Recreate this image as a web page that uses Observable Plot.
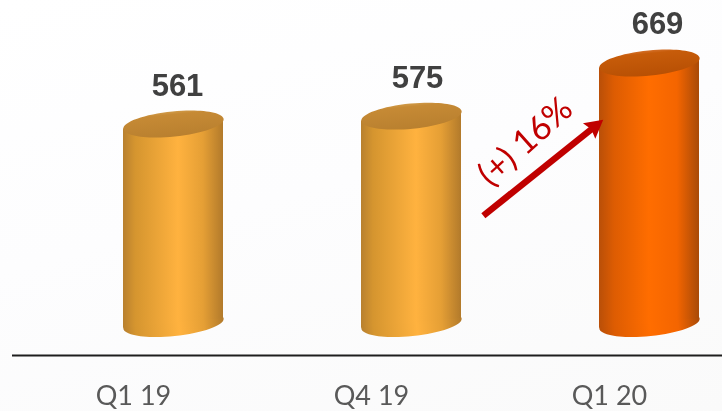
<!DOCTYPE html>
<html>
<head>
<meta charset="utf-8">
<script src="https://cdn.jsdelivr.net/npm/d3@7"></script>
<script src="https://cdn.jsdelivr.net/npm/@observablehq/plot@0.6"></script>
<style>
html,body{margin:0;padding:0;width:722px;height:411px;overflow:hidden;background:linear-gradient(165deg,#ffffff 0%,#fdfdfe 45%,#fafafa 100%);}
svg{display:block;background:transparent!important;filter:blur(0.4px);}
</style>
</head>
<body>
<div id="chart"></div>
<script>
const categories = ["Q1 19", "Q4 19", "Q1 20"];
const values = [561, 575, 669];
const growthLabel = "(+) 16%";
const growthFrom = 297;
const growthTo = 634;
const axisValue = 151.3;
const cylinderBase = 208;
const arrowTipValue = 568.5;
const growthLabelValue = 526;

const rows = categories.map((category, i) => ({category, value: values[i]}));
const body = d => d.category === "Q1 20" ? "url(#bodyOrange)" : "url(#bodyAmber)";
const lid = d => d.category === "Q1 20" ? "url(#lidOrange)" : "url(#lidAmber)";
const tilt = -5.6;

// Tilted-ellipse and arrowhead glyphs for Plot.dot
const ellipse = {draw(c, size) {
  const rx = Math.sqrt(size / Math.PI), ry = rx * 0.25, k = 0.5523;
  c.moveTo(-rx, 0);
  c.bezierCurveTo(-rx, -k * ry, -k * rx, -ry, 0, -ry);
  c.bezierCurveTo(k * rx, -ry, rx, -k * ry, rx, 0);
  c.bezierCurveTo(rx, k * ry, k * rx, ry, 0, ry);
  c.bezierCurveTo(-k * rx, ry, -rx, k * ry, -rx, 0);
  c.closePath();
}};
const head = {draw(c, size) {
  const r = Math.sqrt(size / Math.PI);
  c.moveTo(0, 0);
  c.lineTo(-r, -r * 0.55);
  c.lineTo(-r * 0.85, 0);
  c.lineTo(-r, r * 0.55);
  c.closePath();
}};
// Shear each bar so its ends follow the tilted ellipses
function shear(index, scales, values, dimensions, context, next) {
  const g = next(index, scales, values, dimensions, context);
  g.querySelectorAll("rect").forEach(r => {
    const cx = +r.getAttribute("x") + r.getAttribute("width") / 2;
    const cy = +r.getAttribute("y") + r.getAttribute("height") / 2;
    r.setAttribute("transform", `translate(${cx},${cy}) skewY(${tilt}) translate(${-cx},${-cy})`);
  });
  return g;
}

const stop = (o, col) => `<stop offset="${o}" stop-color="${col}"/>`;
function defs() {
  const g = document.createElementNS("http://www.w3.org/2000/svg", "g");
  const grad = (id, stops, vert) => `<linearGradient id="${id}" x1="0" y1="0" x2="${vert ? 0 : 1}" y2="${vert ? 1 : 0}">${stops}</linearGradient>`;
  g.innerHTML = "<defs>" +
    grad("bodyAmber", stop(0,"#b8802f")+stop(.12,"#d5952f")+stop(.55,"#ffb23f")+stop(.8,"#e59f35")+stop(1,"#b27a2b")) +
    grad("bodyOrange", stop(0,"#b94f08")+stop(.15,"#dd5c02")+stop(.5,"#ff6d00")+stop(.78,"#f46500")+stop(1,"#a84a08")) +
    grad("lidAmber", stop(0,"#d09a48")+stop(.12,"#c68a35")+stop(1,"#b9802f"), true) +
    grad("lidOrange", stop(0,"#d4702a")+stop(.12,"#c75c0a")+stop(1,"#b85004"), true) +
    "</defs>";
  return g;
}
const label = (i, dx, dy) => Plot.text([rows[i]], {
  x: "category", y: "value", text: d => String(d.value), dx, dy,
  fontFamily: "Liberation Sans", fontWeight: "bold", fontSize: 31, fill: "#404040"
});

const chart = Plot.plot({
  width: 722, height: 411,
  marginLeft: 0, marginRight: 0, marginTop: 0, marginBottom: 0,
  style: {background: "transparent"},
  x: {type: "band", domain: categories, range: [52.75, 768.25], paddingInner: 0.58, paddingOuter: 0.29, axis: null},
  y: {domain: [axisValue, 779.6], range: [355, 0], axis: null},
  color: {type: "identity"},
  marks: [
    defs,
    Plot.ruleY([axisValue], {insetLeft: 12, stroke: "#1e1e1e", strokeWidth: 2}),
    Plot.dot(rows, {x: "category", y: () => cylinderBase, r: 50.4, symbol: ellipse, rotate: tilt, fill: body}),
    Plot.barY(rows, {x: "category", y1: () => cylinderBase, y2: "value", fill: body, render: shear}),
    Plot.dot(rows, {x: "category", y: "value", r: 50.4, symbol: ellipse, rotate: tilt, fill: lid}),
    label(0, 4, -38),
    label(1, 6, -38),
    label(2, 8, -39),
    Plot.text(rows, {x: "category", y: () => axisValue, text: "category", dx: -40, dy: 41,
      fontFamily: "Lato", fontSize: 27, fill: "#595959"}),
    Plot.arrow([{a: categories[1], b: categories[2]}], {
      x1: "a", x2: "b", y1: () => growthFrom, y2: () => growthTo,
      insetStart: 92, insetEnd: 72, headLength: 0, stroke: "#c00000", strokeWidth: 6.5, strokeLinecap: "butt", bend: 0
    }),
    Plot.dot([categories[2]], {x: d => d, y: () => arrowTipValue, dx: -46.3, r: 18, symbol: head, rotate: -38.6, fill: "#c00000"}),
    Plot.text([growthLabel], {x: () => categories[1], y: () => growthLabelValue, text: d => d, dx: 114, dy: -2, rotate: -42,
      fontFamily: "Lato", fontSize: 34, fill: "#c00000"})
  ]
});
document.getElementById("chart").appendChild(chart);
</script>
</body>
</html>
